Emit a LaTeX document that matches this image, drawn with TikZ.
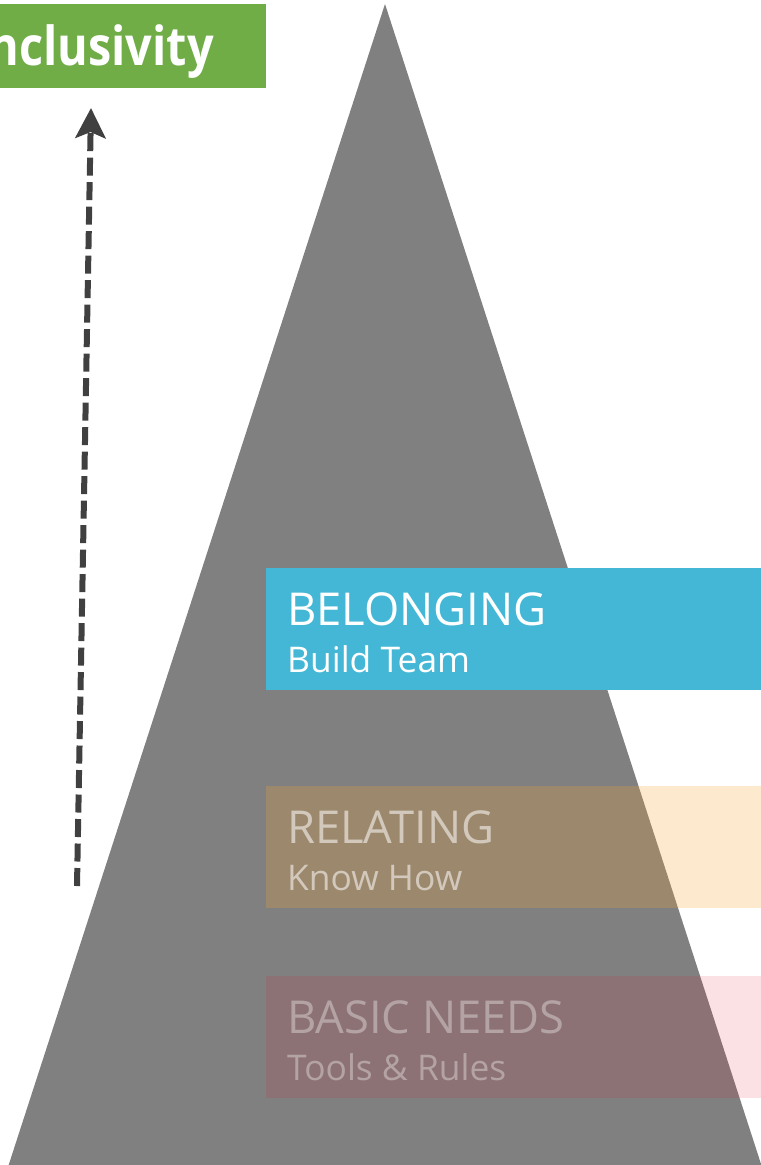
\documentclass[tikz,border=0pt]{standalone}
\usepackage{fontspec}
\setmainfont{Open Sans}
\newfontfamily\titlefont{Open Sans}[FakeStretch=0.87]
\usetikzlibrary{arrows.meta}
\definecolor{tri}{RGB}{128,128,128}
\definecolor{incl}{RGB}{112,173,71}
\definecolor{belong}{RGB}{67,183,213}
\definecolor{relate}{RGB}{247,163,45}
\definecolor{basic}{RGB}{230,20,50}
\definecolor{arrowc}{RGB}{64,64,64}
\tikzset{
  band/.style={draw=none, minimum width=495bp, minimum height=122bp, anchor=north west, inner sep=0pt},
  bigtext/.style={inner sep=0pt, anchor=base west, font=\fontsize{45.5}{46}\selectfont},
  smalltext/.style={inner sep=0pt, anchor=base west, font=\fontsize{35.5}{36}\selectfont},
}
\begin{document}
\begin{tikzpicture}[x=1bp, y=-1bp]
\useasboundingbox (0,0) rectangle (761,1165);
% pyramid
\fill[tri] (385,4) coordinate (apex) -- (8,1167) -- (762,1167) -- cycle;
% title box
\node[fill=incl, minimum width=300bp, minimum height=84bp, anchor=north east, inner sep=0pt] (inclbox) at (266,4) {};
\node[inner sep=0pt, anchor=base east, text=white, font=\titlefont\fontsize{54}{54}\selectfont\bfseries] (incl) at (214,65) {Inclusivity};
% arrow
\coordinate (arrbot) at (77,886);
\coordinate (arrtop) at (91,108);
\draw[arrowc, line width=6bp, dash pattern=on 18bp off 6.5bp, -{Stealth[length=30bp, width=30bp, inset=6bp]}] (arrbot) -- (arrtop);
% bands
\node[band, fill=belong] (belong) at (266,568) {};
\node[band, fill=relate, fill opacity=0.24] (relate) at (266,786) {};
\node[band, fill=basic, fill opacity=0.13] (basic) at (266,976) {};
% labels
\node[bigtext, text=white] (t1) at (287,625) {BELONGING};
\node[smalltext, text=white] (s1) at (287,672) {Build Team};
\node[bigtext, text=white, text opacity=0.55] (t2) at (287,843) {RELATING};
\node[smalltext, text=white, text opacity=0.55] (s2) at (287,890) {Know How};
\node[bigtext, text=white, text opacity=0.35] (t3) at (287,1033) {BASIC NEEDS};
\node[smalltext, text=white, text opacity=0.35] (s3) at (287,1080) {Tools \& Rules};
\end{tikzpicture}
\end{document}
